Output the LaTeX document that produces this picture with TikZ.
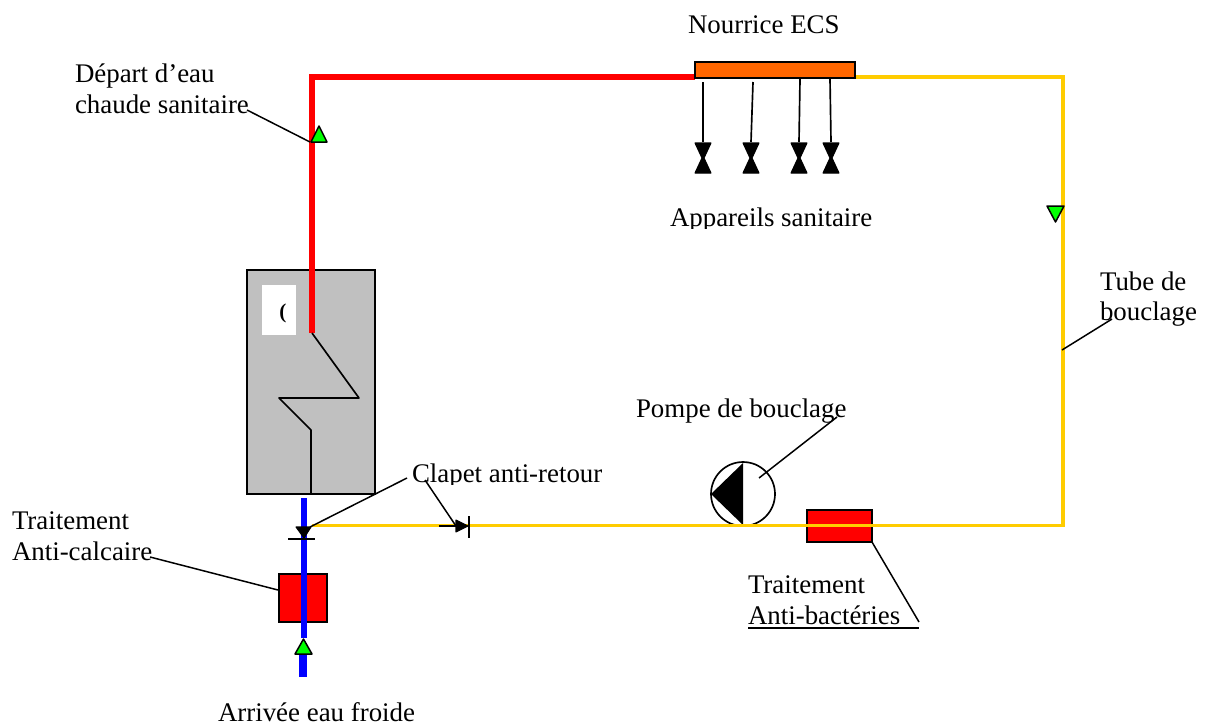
\documentclass[tikz,border=0pt]{standalone}
\usepackage{fontspec}
\setmainfont{Liberation Serif}
\usepackage{tikz}
\tikzset{
lbl/.style={font=\fontsize{15.3}{17.6}\selectfont,inner sep=0,outer sep=0,anchor=base west},
leader/.style={line width=0.85pt},
box/.style={draw=black,line width=0.95pt,inner sep=0,outer sep=0},
hot/.style={draw=hotred,line width=3.1pt},
cold/.style={draw=coldblue,line width=3pt},
loopline/.style={draw=loopyellow,line width=2pt},
flow/.style={draw=black,fill=flowgreen,line width=0.85pt,line join=round},
solid/.style={draw=black,fill=black,line width=0.6pt,line join=round},
}
\definecolor{hotred}{RGB}{255,0,0}
\definecolor{coldblue}{RGB}{0,0,255}
\definecolor{loopyellow}{RGB}{255,204,0}
\definecolor{flowgreen}{RGB}{0,255,0}
\definecolor{nourrice}{RGB}{255,102,0}
\definecolor{boiler}{RGB}{192,192,192}
\begin{document}
\begin{tikzpicture}[x=0.02cm,y=-0.02cm]
\useasboundingbox (0,0) rectangle (1206,724);
% tanks and boxes
\node[box,fill=boiler,minimum width=2.56cm,minimum height=4.48cm] (ballon) at (311,382) {};
\fill[white] (262,285) rectangle (296,335);
\node[font=\bfseries\fontsize{12}{12}\selectfont,inner sep=0] (paren) at (283,313) {(};
\node[box,fill=hotred,minimum width=0.97cm,minimum height=0.97cm] (antical) at (303,598) {};
\node[box,fill=hotred,minimum width=1.3cm,minimum height=0.64cm] (antibac) at (839.5,526) {};
\node[box,fill=white,circle,minimum size=1.28cm] (pompe) at (743,494) {};
\fill (743,463)--(711,494)--(743,525)--cycle;
% pipes
\coordinate (coude) at (312,77);
\coordinate (serpentin) at (312,333);
\draw[hot] (serpentin)--(coude)--(695,77);
\draw[line width=0.95pt,line join=round] (serpentin)--(359,398)--(279,398)--(311,430)--(311,494);
\draw[cold] (304,498)--(304,638);
\draw[coldblue,line width=4pt] (303,650)--(303,677);
\draw[loopline] (312,525.5)--(1063,525.5)--(1063,77)--(855,77);
\node[box,fill=nourrice,minimum width=3.2cm,minimum height=0.32cm] (nourrice) at (775,70) {};
% draw-off points
\foreach \x/\y/\z in {703/703/82,753/751/82,800/799/79,830/831/79}{
\draw[line width=0.95pt] (\x,\z)--(\y,142);
\filldraw[solid] (\y-8,143)--(\y+8,143)--(\y+1,158)--(\y+8,173)--(\y-8,173)--(\y-1,158)--cycle;
}
% flow marks
\draw[flow] (319,126)--(311,142)--(327,142)--cycle;
\draw[flow] (1047,206)--(1064,206)--(1055.5,222)--cycle;
\draw[flow] (303.5,639)--(295,654)--(312,654)--cycle;
% check valves
\filldraw[solid] (296,527)--(311,527)--(304,538)--cycle;
\draw[line width=0.95pt] (288,539)--(315,539);
\filldraw[solid] (456,520)--(456,532)--(468,526)--cycle;
\draw[line width=0.95pt] (469,516)--(469,538);
\draw[line width=0.95pt] (439,526)--(456,526);
% labels
\node[lbl] (nourlbl) at (688,33) {Nourrice ECS};
\begin{scope}
\clip (600,190) rectangle (900,228);
\node[lbl] (appareils) at (670,226) {Appareils sanitaire};
\end{scope}
\node[lbl] (depart) at (75,82) {Départ d’eau};
\node[lbl] (chaude) at (75,113) {chaude sanitaire};
\node[lbl] (tube) at (1100,290) {Tube de};
\node[lbl] (bouclage) at (1100,320) {bouclage};
\node[lbl] (pompelbl) at (636,417) {Pompe de bouclage};
\begin{scope}
\clip (400,450) rectangle (620,484);
\node[lbl] (clapet) at (412,482) {Clapet anti-retour};
\end{scope}
\node[lbl] (trait1) at (12,529) {Traitement};
\node[lbl] (trait2) at (12,560) {Anti-calcaire};
\node[lbl] (trait3) at (748,593) {Traitement};
\node[lbl] (trait4) at (748,624) {Anti-bactéries};
\node[lbl] (arrivee) at (218,721) {Arrivée eau froide};
% leaders
\coordinate (l1) at (247,110);
\coordinate (l2) at (310,142);
\draw[leader] (l1)--(l2);
\coordinate (l3) at (1062,350);
\coordinate (l4) at (1112,319);
\draw[leader] (l3)--(l4);
\coordinate (l5) at (837,417);
\coordinate (l6) at (759,478);
\draw[leader] (l5)--(l6);
\coordinate (l7) at (919,622);
\draw[leader] (antibac.south east)--(l7);
\coordinate (l8) at (748,628);
\coordinate (l9) at (919,628);
\draw[leader] (l8)--(l9);
\coordinate (l10) at (150,557);
\coordinate (l11) at (278,590);
\draw[leader] (l10)--(l11);
\coordinate (l12) at (407,478);
\coordinate (l13) at (310,527);
\draw[leader] (l12)--(l13);
\coordinate (l14) at (425,480);
\coordinate (l15) at (456,526);
\draw[leader] (l14)--(l15);
\end{tikzpicture}
\end{document}
